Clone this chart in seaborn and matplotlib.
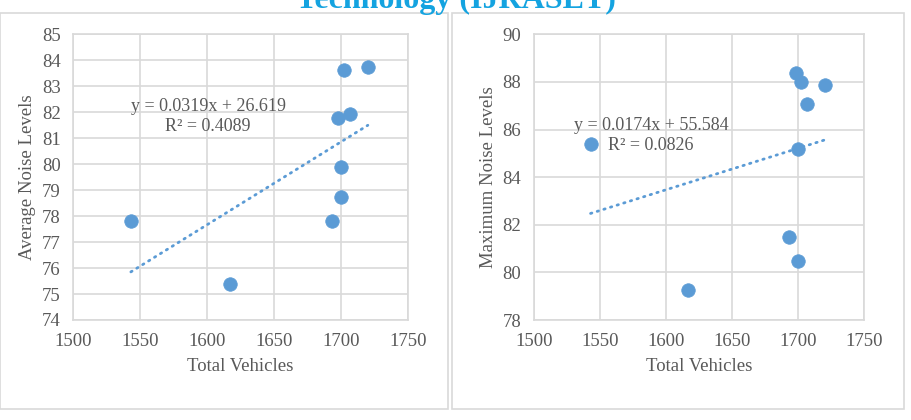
import numpy as np
import pandas as pd
import matplotlib
matplotlib.use("Agg")
import matplotlib.pyplot as plt
from matplotlib.patches import Rectangle
import seaborn as sns

# ---- data ----
total_vehicles = [1702, 1720, 1698, 1707, 1700, 1700, 1543, 1693, 1617]
avg_noise = [83.62, 83.74, 81.79, 81.93, 79.90, 78.72, 77.82, 77.82, 75.38]
max_total_vehicles = [1698, 1702, 1720, 1707, 1700, 1543, 1693, 1700, 1617]
max_noise = [88.37, 87.98, 87.88, 87.07, 85.19, 85.38, 81.48, 80.46, 79.27]

x_ticks = [1500, 1550, 1600, 1650, 1700, 1750]
avg_y_ticks = list(range(74, 86))
max_y_ticks = [78, 80, 82, 84, 86, 88, 90]

left_eq = ["y = 0.0319x + 26.619", "R\u00b2 = 0.4089"]
right_eq = ["y = 0.0174x + 55.584", "R\u00b2 = 0.0826"]
title_text = "Technology (IJRASET)"

sns.set_theme(style="white")
plt.rcParams["font.family"] = ["Liberation Serif", "DejaVu Serif"]

BLUE = "#5B9BD5"
GRID = "#D9D9D9"
TXT = "#595959"

W, H = 912, 420
fig = plt.figure(figsize=(9.12, 4.2), dpi=100)


def px_axes(x0, y0, x1, y1):
    return fig.add_axes([x0 / W, 1 - y1 / H, (x1 - x0) / W, (y1 - y0) / H])


# chart frames
fig.patches.append(Rectangle((0 / W, 1 - 409 / H), 448 / W, 396 / H,
                             transform=fig.transFigure, fill=False,
                             edgecolor=GRID, lw=1.2))
fig.patches.append(Rectangle((452 / W, 1 - 409 / H), 452 / W, 396 / H,
                             transform=fig.transFigure, fill=False,
                             edgecolor=GRID, lw=1.2))

# document title, cut off by the top edge as in the reference
fig.text(456 / W, 1 - 8 / H, title_text, ha="center", va="baseline",
         fontsize=23, fontweight="bold", color="#14A3E0")

ax1 = px_axes(73.3, 34.3, 408, 320)
ax2 = px_axes(533.7, 34.3, 864.3, 320)

df1 = pd.DataFrame({"x": total_vehicles, "y": avg_noise})
df2 = pd.DataFrame({"x": max_total_vehicles, "y": max_noise})

FS = 13.5

for ax, df, yticks, eq, eqx, eqy in [
    (ax1, df1, avg_y_ticks, left_eq, 0.4025, (0.749, 0.679)),
    (ax2, df2, max_y_ticks, right_eq, 0.355, (0.6825, 0.610)),
]:
    sns.regplot(data=df, x="x", y="y", ax=ax, ci=None, truncate=True,
                scatter=False,
                line_kws=dict(color=BLUE, lw=2.0, ls=(0, (0.5, 2.0)),
                              dash_capstyle="round", zorder=2))
    sns.scatterplot(data=df, x="x", y="y", ax=ax, s=95, color=BLUE,
                    edgecolor=BLUE, linewidth=0.5, zorder=3)
    ax.set_xlim(x_ticks[0], x_ticks[-1])
    ax.set_ylim(yticks[0], yticks[-1])
    ax.set_xticks(x_ticks)
    ax.set_yticks(yticks)
    ax.grid(True, color=GRID, lw=1.2)
    ax.set_axisbelow(True)
    for sp in ax.spines.values():
        sp.set_color(GRID)
        sp.set_linewidth(1.2)
    ax.tick_params(axis="both", length=0, labelsize=FS, colors=TXT, pad=9)
    ax.set_xlabel("Total Vehicles", fontsize=FS, color=TXT, labelpad=6)
    for t, yy in zip(eq, eqy):
        ax.text(eqx, yy, t, transform=ax.transAxes, ha="center",
                va="center", fontsize=13, color=TXT)

ax1.set_ylabel("Average Noise Levels", fontsize=FS, color=TXT, labelpad=4)
ax2.set_ylabel("Maximum Noise Levels", fontsize=FS, color=TXT, labelpad=4)

fig.savefig("out.png", dpi=100)
